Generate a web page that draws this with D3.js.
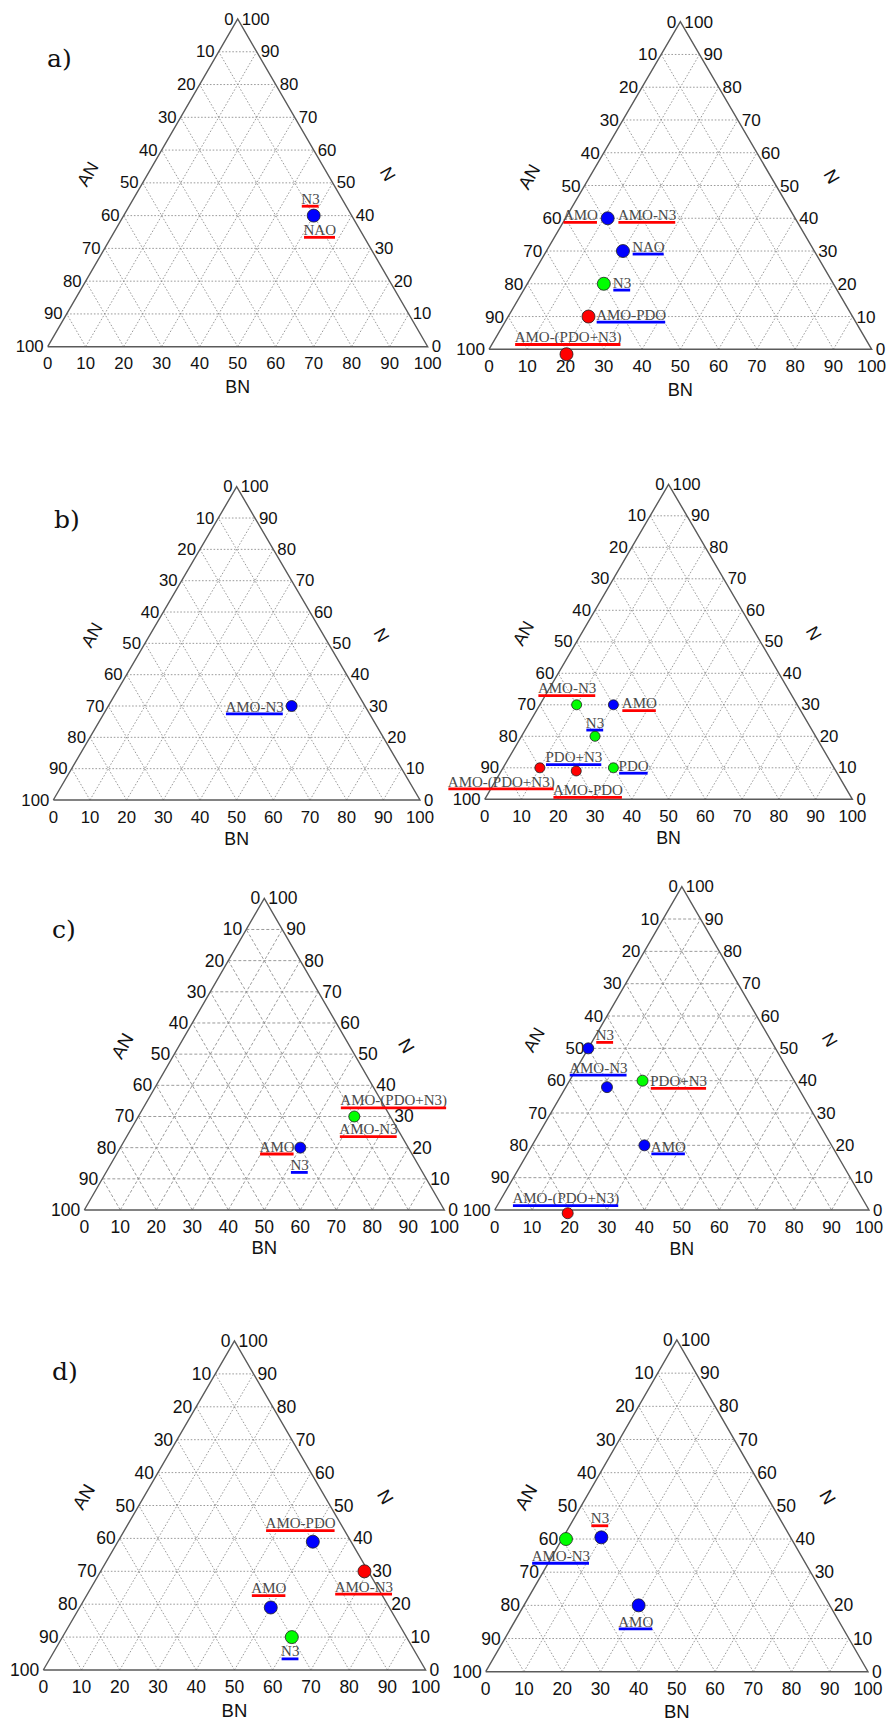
<!DOCTYPE html>
<html>
<head>
<meta charset="utf-8">
<script src="https://cdn.jsdelivr.net/npm/d3@7"></script>
<style>
  body { margin: 0; background: #fff; }
  svg { display: block; }
</style>
</head>
<body>
<svg width="888" height="1722"></svg>
<script>
// tick values on every side of each triangle
const ticks = [0, 10, 20, 30, 40, 50, 60, 70, 80, 90, 100];

// points: bn = BN share, n = N share (AN = 100 - bn - n)
const aLeftPoints = [{bn: 50, n: 40, c: 'blue'}];
const aLeftLabels = [
  {t: 'N3', u: 'red', bn: 46.6, n: 45.1},
  {t: 'NAO', u: 'red', bn: 53.8, n: 35.6}
];

const aRightPoints = [
  {bn: 11, n: 40, c: 'blue'},
  {bn: 20, n: 30, c: 'blue'},
  {bn: 20, n: 20, c: 'green'},
  {bn: 21, n: 10, c: 'red'},
  {bn: 21, n: -1.5, c: 'red'}
];
const aRightLabels = [
  {t: 'AMO', u: 'red', bn: 3.4, n: 41},
  {t: 'AMO-N3', u: 'red', bn: 20.8, n: 41},
  {t: 'NAO', u: 'blue', bn: 26, n: 31.3},
  {t: 'N3', u: 'blue', bn: 24.6, n: 20.3},
  {t: 'AMO-PDO', u: 'blue', bn: 31.9, n: 10.5},
  {t: 'AMO-(PDO+N3)', u: 'red', bn: 18.8, n: 3.7}
];

const bLeftPoints = [{bn: 50, n: 30, c: 'blue'}];
const bLeftLabels = [{t: 'AMO-N3', u: 'blue', bn: 40, n: 29.8}];

const bRightPoints = [
  {bn: 10, n: 30, c: 'green'},
  {bn: 20, n: 30, c: 'blue'},
  {bn: 20, n: 20, c: 'green'},
  {bn: 10, n: 10, c: 'red'},
  {bn: 20.4, n: 9, c: 'red'},
  {bn: 30, n: 10, c: 'green'}
];
const bRightLabels = [
  {t: 'AMO-N3', u: 'red', bn: 4.8, n: 35.2},
  {t: 'AMO', u: 'red', bn: 26.8, n: 30.5},
  {t: 'N3', u: 'blue', bn: 17.85, n: 24.3},
  {t: 'PDO+N3', u: 'blue', bn: 17.6, n: 13.3},
  {t: 'PDO', u: 'blue', bn: 35.2, n: 10.6},
  {t: 'AMO-(PDO+N3)', u: 'red', bn: 1.7, n: 5.6},
  {t: 'AMO-PDO', u: 'red', bn: 26.6, n: 2.95}
];

const cLeftPoints = [
  {bn: 60, n: 30, c: 'green'},
  {bn: 50, n: 20, c: 'blue'}
];
const cLeftLabels = [
  {t: 'AMO-(PDO+N3)', u: 'red', bn: 68.4, n: 35.1},
  {t: 'AMO-N3', u: 'red', bn: 66, n: 25.9},
  {t: 'AMO', u: 'red', bn: 43.4, n: 20.3},
  {t: 'N3', u: 'blue', bn: 52.6, n: 14.4}
];

const cRightPoints = [
  {bn: 0, n: 50, c: 'blue'},
  {bn: 11, n: 38, c: 'blue'},
  {bn: 19.5, n: 40, c: 'green'},
  {bn: 30, n: 20, c: 'blue'},
  {bn: 20, n: -1, c: 'red'}
];
const cRightLabels = [
  {t: 'N3', u: 'red', bn: 2.4, n: 54.1},
  {t: 'AMO-N3', u: 'blue', bn: 5.7, n: 44},
  {t: 'PDO+N3', u: 'red', bn: 29.2, n: 39.9},
  {t: 'AMO', u: 'blue', bn: 36.6, n: 19.6},
  {t: 'AMO-(PDO+N3)', u: 'blue', bn: 17.2, n: 3.6}
];

const dLeftPoints = [
  {bn: 51, n: 39, c: 'blue'},
  {bn: 69, n: 30, c: 'red'},
  {bn: 50, n: 19, c: 'blue'},
  {bn: 60, n: 10, c: 'green'}
];
const dLeftLabels = [
  {t: 'AMO-PDO', u: 'red', bn: 45, n: 44.6},
  {t: 'AMO-N3', u: 'red', bn: 71.2, n: 25.3},
  {t: 'AMO', u: 'red', bn: 46.6, n: 24.8},
  {t: 'N3', u: 'blue', bn: 61.8, n: 5.6}
];

const dRightPoints = [
  {bn: 1, n: 40, c: 'green'},
  {bn: 10, n: 40.5, c: 'blue'},
  {bn: 30, n: 20, c: 'blue'}
];
const dRightLabels = [
  {t: 'N3', u: 'red', bn: 6.8, n: 46.2},
  {t: 'AMO-N3', u: 'blue', bn: 2.2, n: 34.9},
  {t: 'AMO', u: 'blue', bn: 31.7, n: 15.1}
];

const colors = {blue: '#0000ff', red: '#ff0000', green: '#00ff00'};

// where each triangle sits on the page
const panels = [
  {pts: aLeftPoints, lbl: aLeftLabels, x0: 47.7, yb: 346.7, w: 380, h: 327.7, fs: 16.8, r: 6.5, letter: 'a)', lx: 47, ly: 66.5},
  {pts: aRightPoints, lbl: aRightLabels, x0: 489, yb: 349.3, w: 382.7, h: 327.6, fs: 17.2, r: 6.5},
  {pts: bLeftPoints, lbl: bLeftLabels, x0: 53.3, yb: 800, w: 366.7, h: 313.3, fs: 16.8, r: 5.5, letter: 'b)', lx: 54, ly: 528},
  {pts: bRightPoints, lbl: bRightLabels, x0: 484.7, yb: 799.3, w: 367.7, h: 315, fs: 16.8, r: 5},
  {pts: cLeftPoints, lbl: cLeftLabels, x0: 84.3, yb: 1210, w: 360, h: 311.7, fs: 17.5, r: 5.5, letter: 'c)', lx: 52, ly: 938, dash: '3,2'},
  {pts: cRightPoints, lbl: cRightLabels, x0: 494.7, yb: 1210, w: 374.3, h: 323.3, fs: 16.8, r: 5.5, dash: '3,2'},
  {pts: dLeftPoints, lbl: dLeftLabels, x0: 43.3, yb: 1670, w: 382.3, h: 329, fs: 17.5, r: 6.5, letter: 'd)', lx: 52, ly: 1380},
  {pts: dRightPoints, lbl: dRightLabels, x0: 485.7, yb: 1671.7, w: 382.3, h: 331.7, fs: 17.5, r: 6.5}
];

const svg = d3.select('svg');
svg.append('rect').attr('width', 888).attr('height', 1722).attr('fill', '#fff');

function drawPanel(p) {
  const g = svg.append('g');
  const xs = d3.scaleLinear().domain([0, 100]).range([p.x0, p.x0 + p.w]);
  const ys = d3.scaleLinear().domain([0, 100]).range([p.yb, p.yb - p.h]);
  // ternary -> page
  const px = (bn, n) => xs(bn + n / 2);
  const py = (bn, n) => ys(n);
  const line = d3.line().x(d => px(d[0], d[1])).y(d => py(d[0], d[1]));

  // grid
  const inner = ticks.filter(k => k > 0 && k < 100);
  const grid = [];
  inner.forEach(k => {
    grid.push([[0, k], [100 - k, k]]);          // constant N
    grid.push([[k, 0], [k, 100 - k]]);          // constant BN
    grid.push([[100 - k, 0], [0, 100 - k]]);    // constant AN
  });
  g.append('g').selectAll('path').data(grid).join('path')
    .attr('d', line)
    .attr('fill', 'none')
    .attr('stroke', '#909090')
    .attr('stroke-width', 0.9)
    .attr('stroke-dasharray', p.dash || '1.6,1.8');

  // frame
  g.append('path')
    .attr('d', line([[0, 0], [100, 0], [0, 100], [0, 0]]))
    .attr('fill', 'none')
    .attr('stroke', '#5a5a5a')
    .attr('stroke-width', 1.4)
    .attr('stroke-linejoin', 'miter');

  const tickFont = 'Liberation Sans, Arial, sans-serif';
  const tg = g.append('g')
    .attr('font-family', tickFont)
    .attr('font-size', p.fs)
    .attr('fill', '#111');

  // left side: AN
  tg.selectAll('.tl').data(ticks).join('text')
    .attr('x', k => px(0, k) - 4)
    .attr('y', k => ys(k))
    .attr('text-anchor', 'end')
    .attr('dominant-baseline', 'central')
    .text(k => 100 - k);
  // right side: N
  tg.selectAll('.tr').data(ticks).join('text')
    .attr('x', k => px(100 - k, k) + 4)
    .attr('y', k => ys(k))
    .attr('text-anchor', 'start')
    .attr('dominant-baseline', 'central')
    .text(k => k);
  // bottom: BN
  tg.selectAll('.tb').data(ticks).join('text')
    .attr('x', k => xs(k))
    .attr('y', p.yb + 17)
    .attr('text-anchor', 'middle')
    .attr('dominant-baseline', 'central')
    .text(k => k);

  // axis titles
  const s = p.w / 380;
  const lmx = p.x0 + p.w / 4 - 55 * s, lmy = p.yb - p.h / 2 - 8.7 * s;
  const rmx = p.x0 + 3 * p.w / 4 + 55 * s, rmy = lmy;
  const af = p.fs + 1;
  g.append('text')
    .attr('transform', `translate(${lmx},${lmy}) rotate(-60)`)
    .attr('text-anchor', 'middle').attr('dominant-baseline', 'central')
    .attr('font-family', tickFont).attr('font-size', af).attr('fill', '#111')
    .text('AN');
  g.append('text')
    .attr('transform', `translate(${rmx},${rmy}) rotate(60)`)
    .attr('text-anchor', 'middle').attr('dominant-baseline', 'central')
    .attr('font-family', tickFont).attr('font-size', af).attr('fill', '#111')
    .text('N');
  g.append('text')
    .attr('x', xs(50)).attr('y', p.yb + 40 * s)
    .attr('text-anchor', 'middle').attr('dominant-baseline', 'central')
    .attr('font-family', tickFont).attr('font-size', af).attr('fill', '#111')
    .text('BN');

  // experiment labels with coloured underline
  const lg = g.append('g').selectAll('g').data(p.lbl).join('g');
  lg.append('text')
    .attr('x', d => px(d.bn, d.n))
    .attr('y', d => py(d.bn, d.n) + 4.9)
    .attr('text-anchor', 'middle')
    .attr('font-family', 'Liberation Serif, Times New Roman, serif')
    .attr('font-size', 15)
    .attr('fill', '#4a4a4a')
    .text(d => d.t);
  lg.each(function(d) {
    const t = d3.select(this).select('text');
    const len = t.node().getComputedTextLength();
    const cx = px(d.bn, d.n), cy = py(d.bn, d.n);
    d3.select(this).append('line')
      .attr('x1', cx - len / 2 + 0.5).attr('x2', cx + len / 2 - 1)
      .attr('y1', cy + 7.3).attr('y2', cy + 7.3)
      .attr('stroke', colors[d.u])
      .attr('stroke-width', 2.8);
  });

  // markers
  g.append('g').selectAll('circle').data(p.pts).join('circle')
    .attr('cx', d => px(d.bn, d.n))
    .attr('cy', d => py(d.bn, d.n))
    .attr('r', p.r)
    .attr('fill', d => colors[d.c])
    .attr('stroke', '#202020')
    .attr('stroke-width', 0.8);

  if (p.letter) {
    svg.append('text')
      .attr('x', p.lx).attr('y', p.ly)
      .attr('font-family', 'DejaVu Serif, serif')
      .attr('font-size', 25)
      .attr('fill', '#111')
      .text(p.letter);
  }
}

panels.forEach(drawPanel);
</script>
</body>
</html>
